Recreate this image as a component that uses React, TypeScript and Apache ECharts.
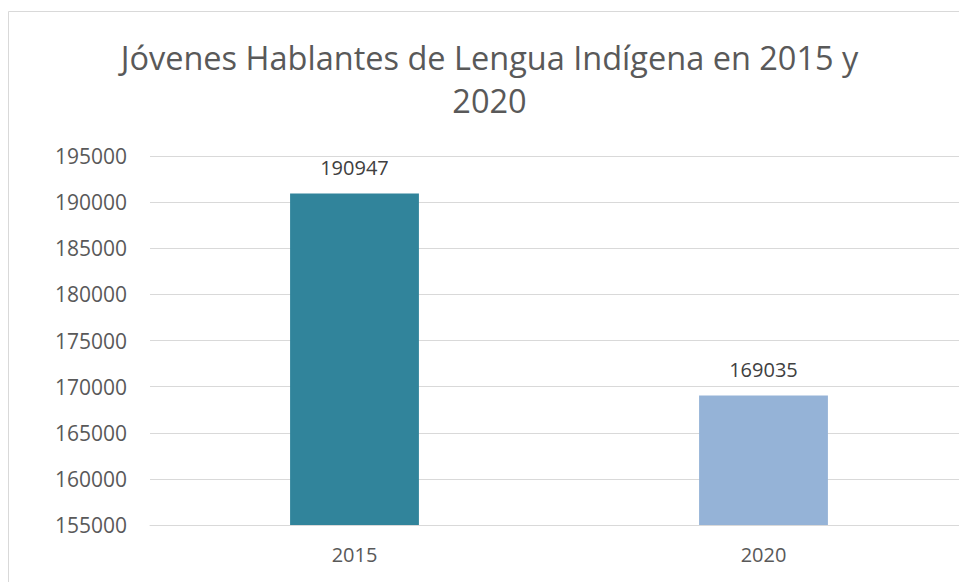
import React, { useEffect, useRef } from "react";
import * as echarts from "echarts";

const categories = ["2015", "2020"];
const values = [190947, 169035];
const barColors = ["#31849B", "#95B3D7"];
const titleText = "Jóvenes Hablantes de Lengua Indígena en 2015 y\n2020";
const yMin = 155000;
const yMax = 195000;
const yStep = 5000;

export default function App() {
  const ref = useRef<HTMLDivElement>(null);
  useEffect(() => {
    if (!ref.current) return;
    const chart = echarts.init(ref.current, null, { renderer: "svg" });
    const font = "'Open Sans', 'Liberation Sans', sans-serif";
    chart.setOption({
      animation: false,
      backgroundColor: "#ffffff",
      title: {
        text: titleText,
        left: 484.5,
        textAlign: "center",
        top: 31,
        textStyle: {
          fontFamily: font,
          fontSize: 32.5,
          fontWeight: "normal",
          color: "#595959",
          lineHeight: 43,
        },
      },
      graphic: [
        {
          type: "rect",
          shape: { x: 8.5, y: 11.5, width: 1000, height: 1000 },
          style: { fill: "none", stroke: "#D9D9D9", lineWidth: 1 },
          silent: true,
          z: -1,
        },
      ],
      grid: { left: 150, top: 156, width: 818, height: 369, containLabel: false },
      xAxis: {
        type: "category",
        data: categories,
        axisLine: { show: true, lineStyle: { color: "#D9D9D9", width: 1 } },
        axisTick: { show: false },
        axisLabel: {
          margin: 19,
          fontFamily: font,
          fontSize: 20,
          color: "#595959",
        },
      },
      yAxis: {
        type: "value",
        min: yMin,
        max: yMax,
        interval: yStep,
        axisLine: { show: false },
        axisTick: { show: false },
        splitLine: { lineStyle: { color: "#D9D9D9", width: 1 } },
        axisLabel: {
          margin: 23,
          fontFamily: font,
          fontSize: 21,
          color: "#595959",
          formatter: (v: number) => String(v),
        },
      },
      series: [
        {
          type: "bar",
          barWidth: "31.5%",
          data: values.map((v, i) => ({ value: v, itemStyle: { color: barColors[i] } })),
          label: {
            show: true,
            position: "top",
            distance: 16,
            fontFamily: font,
            fontSize: 20,
            color: "#404040",
          },
        },
      ],
    });
    return () => chart.dispose();
  }, []);
  return (
    <div
      ref={ref}
      style={{ position: "fixed", left: 0, top: 0, width: 990, height: 582 }}
    />
  );
}
